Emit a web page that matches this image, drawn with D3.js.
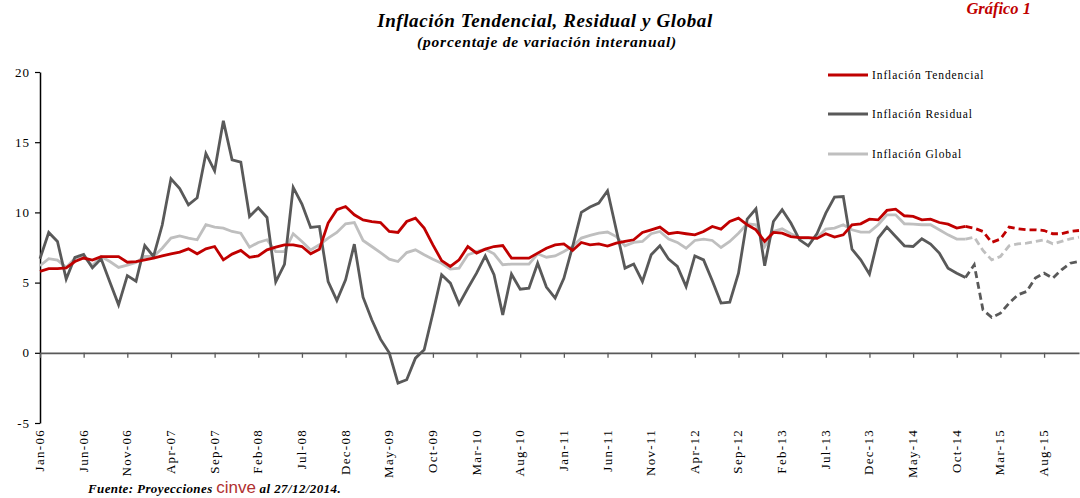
<!DOCTYPE html>
<html>
<head>
<meta charset="utf-8">
<script src="https://cdn.jsdelivr.net/npm/d3@7"></script>
<style>
  html, body { margin: 0; padding: 0; background: #fff; }
  svg { display: block; }
  text { font-family: "Liberation Serif", "Times New Roman", serif; }
</style>
</head>
<body>
<svg id="chart" width="1080" height="498"></svg>
<script>
// ---- DATA ----
const monthNames = ["Jan","Feb","Mar","Apr","May","Jun","Jul","Aug","Sep","Oct","Nov","Dec"];
const years = ["06","07","08","09","10","11","12","13","14","15"];
const months = [];
years.forEach(y => monthNames.forEach(m => months.push(m + "-" + y)));

const tickLabels = ["Jan-06","Jun-06","Nov-06","Apr-07","Sep-07","Feb-08","Jul-08","Dec-08",
  "May-09","Oct-09","Mar-10","Aug-10","Jan-11","Jun-11","Nov-11","Apr-12","Sep-12","Feb-13",
  "Jul-13","Dec-13","May-14","Oct-14","Mar-15","Aug-15"];

const yTicks = [-5, 0, 5, 10, 15, 20];

const tendencial = [
  5.8, 6.0, 6.0, 6.05, 6.5, 6.75, 6.6, 6.85, 6.85, 6.85,
  6.45, 6.5, 6.62, 6.74, 6.9, 7.05, 7.17, 7.4, 7.05, 7.4,
  7.57, 6.62, 7.03, 7.29, 6.8, 6.9, 7.33, 7.52, 7.69, 7.69,
  7.57, 7.05, 7.38, 9.24, 10.19, 10.42, 9.83, 9.47, 9.35, 9.28,
  8.64, 8.57, 9.35, 9.59, 8.88, 7.69, 6.57, 6.15, 6.62, 7.57,
  7.1, 7.38, 7.57, 7.64, 6.74, 6.74, 6.74, 7.1, 7.45, 7.69,
  7.76, 7.29, 7.86, 7.69, 7.76, 7.6, 7.81, 7.93, 8.05, 8.57,
  8.76, 8.95, 8.48, 8.57, 8.48, 8.4, 8.64, 9.0, 8.81, 9.35,
  9.59, 9.12, 8.76, 7.93, 8.57, 8.52, 8.28, 8.21, 8.21, 8.15,
  8.48, 8.24, 8.4, 9.12, 9.19, 9.52, 9.47, 10.14, 10.23, 9.76,
  9.71, 9.47, 9.52, 9.28, 9.16, 8.88, 9.0, 8.88, 8.64, 7.86,
  8.1, 8.95, 8.83, 8.76, 8.76, 8.71, 8.48, 8.48, 8.64, 8.71
];

const residual = [
  6.7, 8.57, 7.93, 5.25, 6.8, 7.0, 6.05, 6.7, 5.05, 3.42,
  5.5, 5.1, 7.64, 6.86, 9.1, 12.39, 11.7, 10.54, 11.04, 14.2,
  12.96, 16.52, 13.75, 13.58, 9.71, 10.33, 9.64, 5.06, 6.3, 11.78,
  10.6, 8.93, 9.0, 5.08, 3.73, 5.2, 7.74, 3.96, 2.35, 0.97,
  0.0, -2.16, -1.92, -0.38, 0.21, 2.82, 5.56, 4.96, 3.47, 4.6,
  5.67, 6.9, 5.56, 2.7, 5.6, 4.53, 4.6, 6.38, 4.68, 3.9,
  5.3, 7.57, 10.0, 10.38, 10.66, 11.54, 8.76, 6.03, 6.32, 5.08,
  6.98, 7.62, 6.67, 6.15, 4.72, 6.9, 6.62, 5.13, 3.54, 3.61,
  5.67, 9.52, 10.26, 6.2, 9.35, 10.19, 9.24, 8.05, 7.62, 8.5,
  9.95, 11.09, 11.13, 7.38, 6.62, 5.6, 8.17, 8.95, 8.28, 7.62,
  7.57, 8.12, 7.74, 7.1, 6.03, 5.67, 5.36, 6.27, 3.06, 2.52,
  2.82, 3.54, 4.13, 4.37, 5.32, 5.67, 5.32, 5.91, 6.38, 6.5
];

const global = [
  6.2, 6.7, 6.6, 6.08, 6.74, 6.86, 6.2, 6.86, 6.5, 6.08,
  6.24, 6.43, 6.86, 6.86, 7.45, 8.17, 8.33, 8.17, 8.05, 9.12,
  8.95, 8.88, 8.64, 8.52, 7.52, 7.86, 8.05, 7.21, 7.21, 8.48,
  7.93, 7.33, 7.69, 8.17, 8.57, 9.19, 9.28, 8.0, 7.57, 7.14,
  6.67, 6.5, 7.14, 7.33, 6.98, 6.67, 6.38, 5.96, 6.03, 6.98,
  7.21, 7.38, 7.05, 6.27, 6.32, 6.32, 6.32, 7.05, 6.81, 6.9,
  7.21, 7.57, 8.17, 8.36, 8.52, 8.6, 8.28, 7.62, 7.86, 7.93,
  8.48, 8.64, 8.1, 7.86, 7.45, 8.0, 8.1, 8.0, 7.5, 7.93,
  8.52, 9.19, 9.12, 7.57, 8.64, 8.83, 8.48, 8.17, 8.17, 8.17,
  8.81, 8.88, 9.12, 8.76, 8.6, 8.6, 9.12, 9.83, 9.83, 9.19,
  9.16, 9.12, 9.12, 8.76, 8.4, 8.1, 8.1, 8.24, 7.29, 6.62,
  6.86, 7.62, 7.76, 7.81, 7.93, 8.05, 7.76, 7.93, 8.12, 8.24
];

const forecastStart = "Dec-14"; // projections from this month onward

const seriesNames = ["Inflación Tendencial", "Inflación Residual", "Inflación Global"];
const seriesColors = ["#c00000", "#595959", "#bfbfbf"];

// ---- CHART ----
const svg = d3.select("#chart");
const x = d3.scalePoint().domain(months).range([40, 1079]);
const y = d3.scaleLinear().domain([-5, 20]).range([423, 72]);

// Titles
svg.append("text").attr("x", 545).attr("y", 27).attr("text-anchor", "middle")
  .attr("font-size", 19).attr("font-weight", "bold").attr("font-style", "italic")
  .attr("letter-spacing", 0.6)
  .text("Inflación Tendencial, Residual y Global");
svg.append("text").attr("x", 547).attr("y", 47).attr("text-anchor", "middle")
  .attr("font-size", 15.5).attr("font-weight", "bold").attr("font-style", "italic")
  .attr("letter-spacing", 0.8)
  .text("(porcentaje de variación interanual)");
svg.append("text").attr("x", 1031).attr("y", 14).attr("text-anchor", "end")
  .attr("font-size", 16.5).attr("font-weight", "bold").attr("font-style", "italic")
  .attr("fill", "#c00000").text("Gráfico 1");

// Y axis
const yAxis = d3.axisLeft(y).tickValues(yTicks).tickSize(5).tickSizeOuter(0).tickFormat(d => String(d));
const gy = svg.append("g").attr("transform", "translate(40,0)").call(yAxis);
gy.select(".domain").attr("stroke", "#000").attr("stroke-width", 1.5);
gy.selectAll(".tick line").attr("stroke", "#000").attr("stroke-width", 1.2);
gy.selectAll(".tick text").attr("font-family", "Liberation Serif, serif").attr("font-size", 13)
  .attr("fill", "#000").attr("x", -10).attr("letter-spacing", 1);

// X axis along zero
const xAxis = d3.axisBottom(x).tickValues(tickLabels).tickSize(5).tickSizeOuter(0);
const gx = svg.append("g").attr("transform", `translate(0,${y(0)})`).call(xAxis);
gx.select(".domain").attr("stroke", "#595959").attr("stroke-width", 1.8);
gx.selectAll(".tick line").attr("stroke", "#595959").attr("stroke-width", 1.3);
gx.selectAll(".tick text").remove();

// X tick labels at bottom, rotated
svg.append("g").selectAll("text").data(tickLabels).join("text")
  .attr("transform", d => `translate(${x(d) + 4},429) rotate(-90)`)
  .attr("text-anchor", "end")
  .attr("font-size", 13).attr("letter-spacing", 1.3).attr("fill", "#000")
  .text(d => d);

// Lines
const line = d3.line().x(d => x(d.m)).y(d => y(d.v));
const fi = months.indexOf(forecastStart);
const drawOrder = [2, 1, 0];
const allSeries = [tendencial, residual, global];
drawOrder.forEach(k => {
  const pts = allSeries[k].map((v, i) => ({m: months[i], v}));
  svg.append("path").datum(pts.slice(0, fi))
    .attr("fill", "none").attr("stroke", seriesColors[k]).attr("stroke-width", 2.8)
    .attr("stroke-linejoin", "miter").attr("d", line);
  svg.append("path").datum(pts.slice(fi - 1))
    .attr("fill", "none").attr("stroke", seriesColors[k]).attr("stroke-width", 2.8)
    .attr("stroke-dasharray", "7,4").attr("d", line);
});

// Legend
const legendY = [75, 114, 154];
seriesNames.forEach((n, k) => {
  svg.append("line").attr("x1", 828).attr("x2", 868).attr("y1", legendY[k]).attr("y2", legendY[k])
    .attr("stroke", seriesColors[k]).attr("stroke-width", 2.8);
  svg.append("text").attr("x", 872).attr("y", legendY[k] + 4).attr("font-size", 11.5)
    .attr("letter-spacing", 0.9).attr("fill", "#000").text(n);
});

// Footer
const foot = svg.append("text").attr("x", 88).attr("y", 493).attr("font-size", 13)
  .attr("font-weight", "bold").attr("font-style", "italic").attr("letter-spacing", 0.4);
foot.append("tspan").text("Fuente: Proyecciones ");
foot.append("tspan").attr("font-family", "Liberation Sans, Arial, sans-serif").attr("font-weight", "normal")
  .attr("font-style", "normal").attr("font-size", 17).attr("letter-spacing", 0).attr("fill", "#b03030").text("cinve");
foot.append("tspan").text(" al 27/12/2014.");
</script>
</body>
</html>
